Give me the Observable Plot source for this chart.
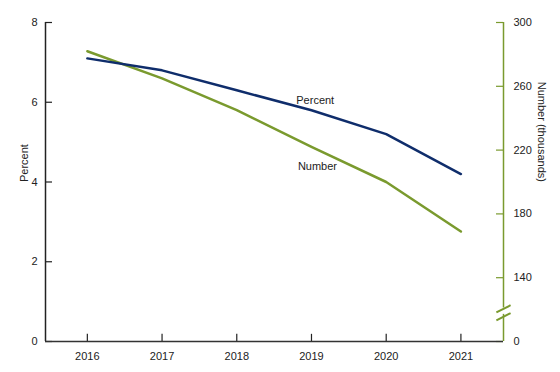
<!DOCTYPE html>
<html><head><meta charset="utf-8">
<script src="https://cdn.jsdelivr.net/npm/d3@7"></script>
<script src="https://cdn.jsdelivr.net/npm/@observablehq/plot@0.6"></script>
<style>body{margin:0;background:#fff;} svg{display:block;}</style>
</head><body><div id="chart"></div>
<script>
const years = [2016, 2017, 2018, 2019, 2020, 2021];
const percent = [7.1, 6.8, 6.3, 5.8, 5.2, 4.2];
const number = [282, 265, 245, 222, 200, 169]; // thousands
const leftTicks = [0, 2, 4, 6, 8];
const rightTicks = [0, 140, 180, 220, 260, 300];
const seriesLabels = ["Percent", "Number"];

const navy = "#0f2d6b";
const green = "#7a9a2e";
const font = "Liberation Sans, Arial, sans-serif";

// right axis: broken scale, 100..300 thousand maps onto 0..8 percent; "0" drawn at the base
const breakBase = 100;
const toLeft = v => v === 0 ? 0 : (v - breakBase) / 200 * 8;
const xMin = 2015.44, xMax = 2021.57;
const tickLenX = 0.094, tickLenY = 0.18;

const pctData = years.map((y, i) => ({year: y, v: percent[i]}));
const numData = years.map((y, i) => ({year: y, v: toLeft(number[i])}));
const labelData = [
  {text: seriesLabels[0], year: 2019.05, v: 6.04},
  {text: seriesLabels[1], year: 2019.08, v: 4.38}
];
const breakY = toLeft(119);

const chart = Plot.plot({
  width: 560, height: 372,
  marginLeft: 45, marginRight: 57, marginTop: 22, marginBottom: 31,
  style: {fontFamily: font, fontSize: "11px", color: "#222", background: "#fff"},
  x: {domain: [xMin, xMax]},
  y: {domain: [0, 8]},
  marks: [
    Plot.axisY({ticks: leftTicks, tickSize: 0, tickPadding: 8, label: null, tickFormat: d => d, fontSize: 11}),
    Plot.axisY({anchor: "right", ticks: rightTicks.map(toLeft), tickSize: 0, tickPadding: 10, label: null,
      tickFormat: (d, i) => String(rightTicks[i]), fontSize: 11}),
    Plot.axisX({ticks: years, tickSize: 0, tickPadding: 11, tickFormat: d => String(d), label: null, fontSize: 11}),
    Plot.ruleX(years, {x: d => d, y1: 0, y2: tickLenY, stroke: "#222", strokeWidth: 1.2}),
    Plot.ruleY(leftTicks, {y: d => d, x1: xMin, x2: xMin + tickLenX, stroke: "#222", strokeWidth: 1.2}),
    Plot.ruleY(rightTicks.map(toLeft), {y: d => d, x1: xMax - tickLenX, x2: xMax, stroke: green, strokeWidth: 1.2}),
    Plot.ruleX([xMin], {y1: 0, y2: 8, stroke: "#222", strokeWidth: 1.5}),
    Plot.ruleY([0], {x1: xMin, x2: xMax, stroke: "#333", strokeWidth: 1.5}),
    Plot.ruleX([xMax], {y1: 0, y2: 8, stroke: green, strokeWidth: 1.5}),
    // axis break
    Plot.ruleX([xMax], {y1: breakY - 0.08, y2: breakY + 0.08, stroke: "#fff", strokeWidth: 4}),
    Plot.link([-0.14, 0.06], {x1: xMax - 0.095, x2: xMax + 0.095, y1: d => breakY + d - 0.09, y2: d => breakY + d + 0.09,
      stroke: green, strokeWidth: 2}),
    Plot.line(numData, {x: "year", y: "v", stroke: green, strokeWidth: 2.5}),
    Plot.line(pctData, {x: "year", y: "v", stroke: navy, strokeWidth: 2.5}),
    Plot.text(labelData, {x: "year", y: "v", text: "text", fontSize: 11, fill: "#222"}),
    Plot.text(["Percent"], {frameAnchor: "left", rotate: -90, dx: -21, fontSize: 11, fill: "#222"}),
    Plot.text(["Number (thousands)"], {frameAnchor: "right", rotate: 90, dx: 38, fontSize: 11, fill: "#222"})
  ]
});
document.getElementById("chart").appendChild(chart);
</script></body></html>
